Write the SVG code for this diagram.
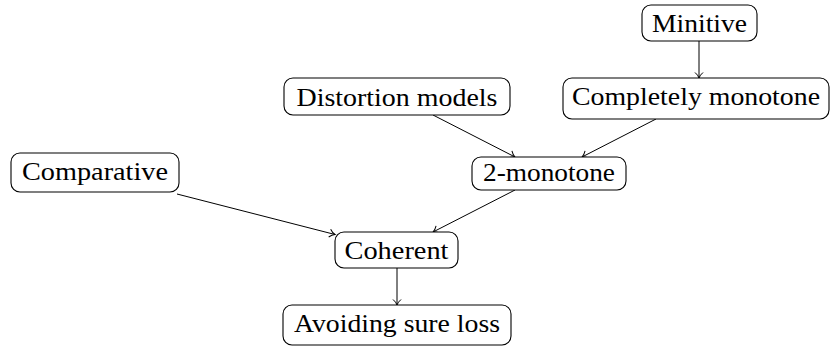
<svg xmlns="http://www.w3.org/2000/svg" width="831" height="347" viewBox="0 0 831 347">
<style>
.box{fill:#fff;stroke:#000;stroke-width:1.1}
.lbl{font-family:"Liberation Serif","DejaVu Serif",serif;font-size:26px;fill:#000;text-anchor:middle}
.edge{stroke:#000;stroke-width:1;fill:none;marker-end:url(#arr)}
</style>
<defs>
<marker id="arr" markerUnits="userSpaceOnUse" markerWidth="12" markerHeight="12" refX="9" refY="6" orient="auto">
<path d="M3.5 2 Q6 5 9 6 Q6 7 3.5 10" fill="none" stroke="#000" stroke-width="1"/>
</marker>
</defs>
<g id="connectors">
<line class="edge" x1="699" y1="41" x2="699" y2="78"/>
<line class="edge" x1="433" y1="115" x2="515" y2="157"/>
<line class="edge" x1="656" y1="119" x2="582" y2="157"/>
<line class="edge" x1="515" y1="190" x2="433" y2="232"/>
<line class="edge" x1="177" y1="194" x2="335" y2="234.5"/>
<line class="edge" x1="397" y1="268" x2="397" y2="305"/>
</g>
<g id="minitive">
<rect class="box" x="642" y="5" width="115" height="36" rx="9"/>
<text class="lbl" x="699.5" y="32" textLength="95" lengthAdjust="spacingAndGlyphs">Minitive</text>
</g>
<g id="completely">
<rect class="box" x="563" y="78" width="266" height="41" rx="9"/>
<text class="lbl" x="696" y="105" textLength="248" lengthAdjust="spacingAndGlyphs">Completely monotone</text>
</g>
<g id="distortion">
<rect class="box" x="284" y="78" width="226" height="37" rx="9"/>
<text class="lbl" x="397" y="105.5" textLength="201" lengthAdjust="spacingAndGlyphs">Distortion models</text>
</g>
<g id="twomonotone">
<rect class="box" x="472" y="157" width="154" height="33" rx="9"/>
<text class="lbl" x="549" y="181" textLength="132" lengthAdjust="spacingAndGlyphs">2-monotone</text>
</g>
<g id="comparative">
<rect class="box" x="11" y="153" width="168" height="39" rx="9"/>
<text class="lbl" x="95" y="180" textLength="146" lengthAdjust="spacingAndGlyphs">Comparative</text>
</g>
<g id="coherent">
<rect class="box" x="335" y="232" width="123" height="36" rx="9"/>
<text class="lbl" x="396.5" y="258.5" textLength="104" lengthAdjust="spacingAndGlyphs">Coherent</text>
</g>
<g id="avoiding">
<rect class="box" x="283" y="305" width="228" height="40" rx="9"/>
<text class="lbl" x="397" y="332" textLength="206" lengthAdjust="spacingAndGlyphs">Avoiding sure loss</text>
</g>
</svg>
